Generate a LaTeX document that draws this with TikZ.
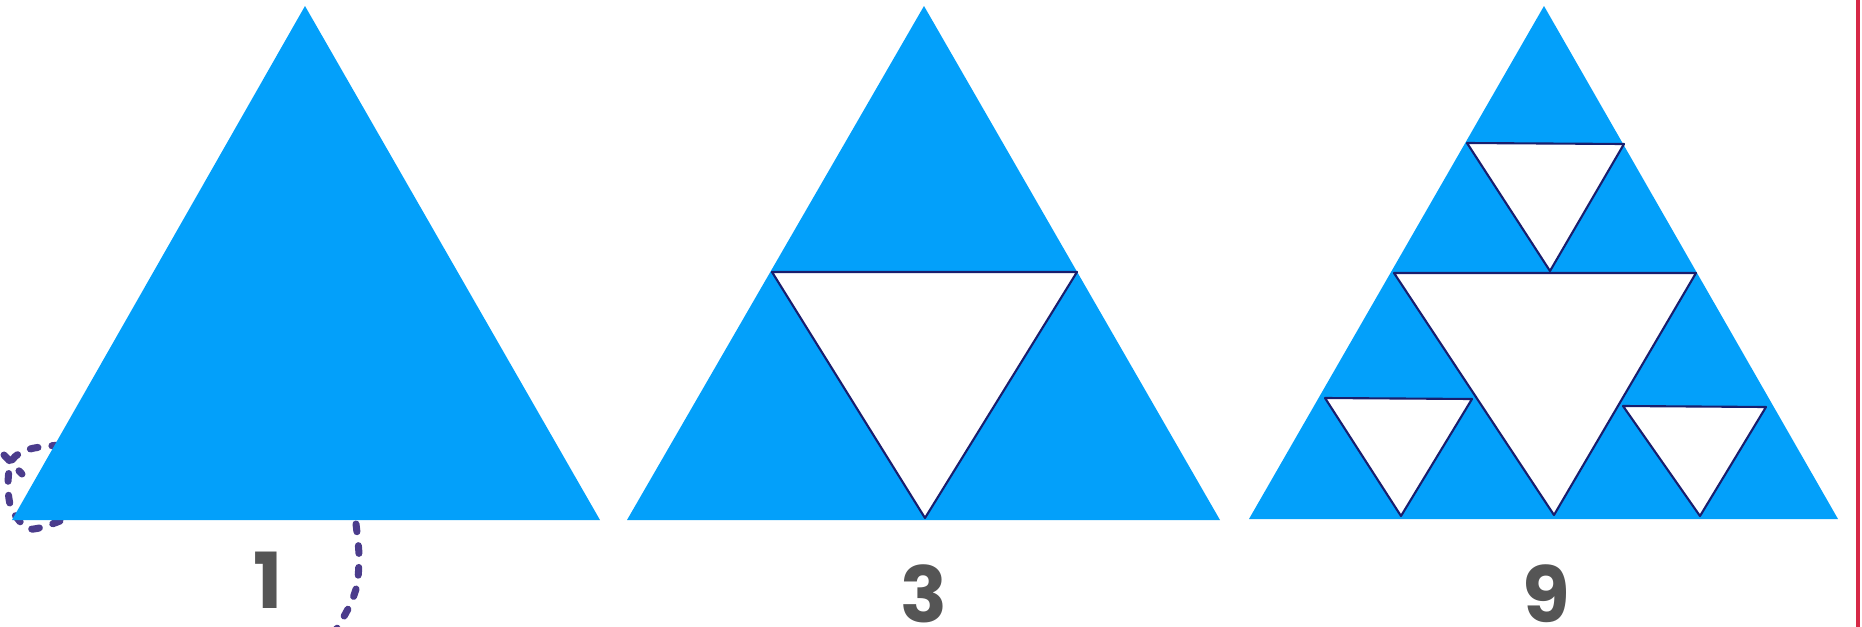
\documentclass[tikz,border=0pt]{standalone}
\usepackage{fontspec}
\setmainfont{Poppins}
\usetikzlibrary{positioning}
\definecolor{sierblue}{RGB}{3,160,250}
\definecolor{holeedge}{RGB}{25,30,110}
\definecolor{numgray}{RGB}{85,85,85}
\definecolor{loopviolet}{RGB}{75,60,140}
\definecolor{edgered}{RGB}{215,40,70}

\begin{document}
\begin{tikzpicture}[
    x=0.01cm, y=-0.01cm,
    solidtri/.style={fill=sierblue},
    hole/.style={fill=white, draw=holeedge, line width=0.6pt, line join=round},
    count/.style={font=\fontsize{22}{26}\selectfont\bfseries, text=numgray, inner sep=0pt, anchor=base},
    sketchline/.style={draw=loopviolet, line width=2pt, dash pattern=on 2.2pt off 4pt, line cap=round},
]

\useasboundingbox (0,0) rectangle (1862,627);

% === Sketch marks (behind the first triangle) ===
\draw[sketchline] plot[smooth] coordinates {(60,521) (30,529) (12,510) (8,485) (12,460) (30,449) (60,445)};
\draw[sketchline] (4,455) -- (22,474);
\draw[sketchline] plot[smooth] coordinates {(356,524) (359,555) (357,585) (349,607) (336,630)};

% === Step 0: one triangle ===
\coordinate (aTop) at (305,6);
\coordinate (aLeft) at (12,520);
\coordinate (aRight) at (600,520);
\fill[solidtri] (aTop) -- (aLeft) -- (aRight) -- cycle;
\node[count] (aNum) at (268,608) {1};

% === Step 1: three triangles ===
\coordinate (bTop) at (924,6);
\coordinate (bLeft) at (627,520);
\coordinate (bRight) at (1220,520);
\fill[solidtri] (bTop) -- (bLeft) -- (bRight) -- cycle;
\draw[hole] (772,272) -- (1077,272) -- (925,518) -- cycle;
\node[count] (bNum) at (924,622) {3};

% === Step 2: nine triangles ===
\coordinate (cTop) at (1544,6);
\coordinate (cLeft) at (1249,519);
\coordinate (cRight) at (1838,519);
\fill[solidtri] (cTop) -- (cLeft) -- (cRight) -- cycle;
\draw[hole] (1394,273) -- (1696,273) -- (1554,515) -- cycle;
\draw[hole] (1467,143) -- (1624,144) -- (1550,271) -- cycle;
\draw[hole] (1325,398) -- (1472,399) -- (1401,516) -- cycle;
\draw[hole] (1623,406) -- (1766,407) -- (1700,516) -- cycle;
\node[count] (cNum) at (1546,622) {9};

% === Page edge ===
\draw[edgered, line width=0.9pt] (1858,0) -- (1858,627);

\end{tikzpicture}
\end{document}
